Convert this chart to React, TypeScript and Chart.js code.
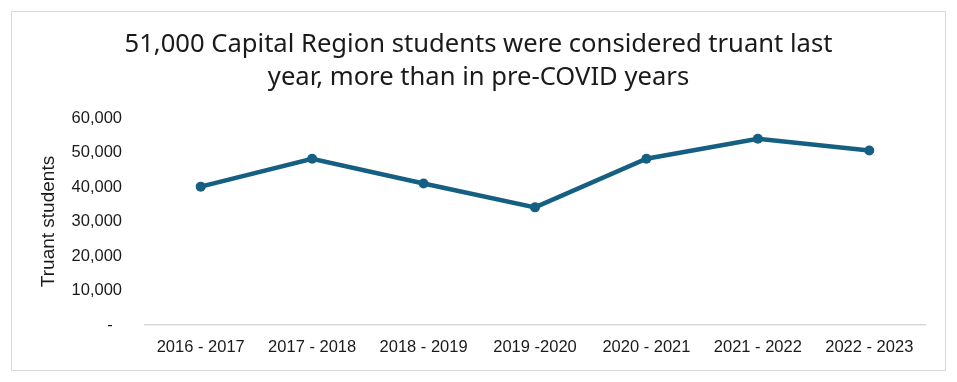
import React, { useEffect, useRef } from "react";
import { Chart, registerables } from "chart.js";

Chart.register(...registerables);

const categories = ["2016 - 2017", "2017 - 2018", "2018 - 2019", "2019 -2020", "2020 - 2021", "2021 - 2022", "2022 - 2023"];
const truantStudents = [40100, 48200, 41000, 34100, 48200, 54000, 50600];
const yTicks = [0, 10000, 20000, 30000, 40000, 50000, 60000];
const titleLines = ["51,000 Capital Region students were considered truant last", "year, more than in pre-COVID years"];
const yAxisTitle = "Truant students";

const LINE_COLOR = "#156082";
const TEXT_COLOR = "#1a1a1a";
const GRID_COLOR = "#d9d9d9";

export default function App() {
  const ref = useRef<HTMLCanvasElement | null>(null);

  useEffect(() => {
    if (!ref.current) return;
    const chart = new Chart(ref.current, {
      type: "line",
      data: {
        labels: categories,
        datasets: [
          {
            data: truantStudents,
            borderColor: LINE_COLOR,
            backgroundColor: LINE_COLOR,
            borderWidth: 4.5,
            pointRadius: 5,
            pointBackgroundColor: LINE_COLOR,
            pointBorderColor: LINE_COLOR,
            pointBorderWidth: 0,
            tension: 0,
          },
        ],
      },
      options: {
        responsive: false,
        animation: false,
        devicePixelRatio: 1,
        layout: { padding: { left: 20, right: 20, top: 0, bottom: 0 } },
        plugins: {
          legend: { display: false },
          tooltip: { enabled: false },
          title: {
            display: true,
            text: titleLines,
            color: TEXT_COLOR,
            font: { family: "'Noto Sans', 'Open Sans', sans-serif", size: 25.6, weight: "normal", lineHeight: "33px" },
            padding: { top: 16.5, bottom: 23.5 },
          },
        },
        scales: {
          x: {
            offset: true,
            grid: { display: false, drawTicks: false, offset: true },
            border: { display: true, color: GRID_COLOR, width: 1.5 },
            ticks: {
              color: TEXT_COLOR,
              padding: 12.5,
              maxRotation: 0,
              autoSkip: false,
              font: { family: "'Liberation Sans', Arial, sans-serif", size: 16.5 },
            },
            afterFit: (scale: any) => {
              scale.height = 45;
            },
          },
          y: {
            min: 0,
            max: 60000,
            afterBuildTicks: (scale: any) => {
              scale.ticks = yTicks.map((v) => ({ value: v }));
            },
            grid: { display: false, drawTicks: false },
            border: { display: false },
            ticks: {
              color: TEXT_COLOR,
              padding: 23,
              font: { family: "'Liberation Sans', Arial, sans-serif", size: 16.5 },
              callback: (v: any) => (Number(v) === 0 ? "-  " : Number(v).toLocaleString("en-US")),
            },
            title: {
              display: true,
              text: yAxisTitle,
              color: TEXT_COLOR,
              font: { family: "'Liberation Sans', Arial, sans-serif", size: 19 },
              padding: { top: 5, bottom: 0 },
            },
            afterFit: (scale: any) => {
              scale.width = 113;
            },
          },
        },
      },
    });
    return () => chart.destroy();
  }, []);

  return (
    <div style={{ margin: 3, width: 933, height: 358, border: "1px solid #d9d9d9", background: "#fff" }}>
      <canvas ref={ref} width={933} height={358} style={{ display: "block", width: 933, height: 358 }} />
    </div>
  );
}
